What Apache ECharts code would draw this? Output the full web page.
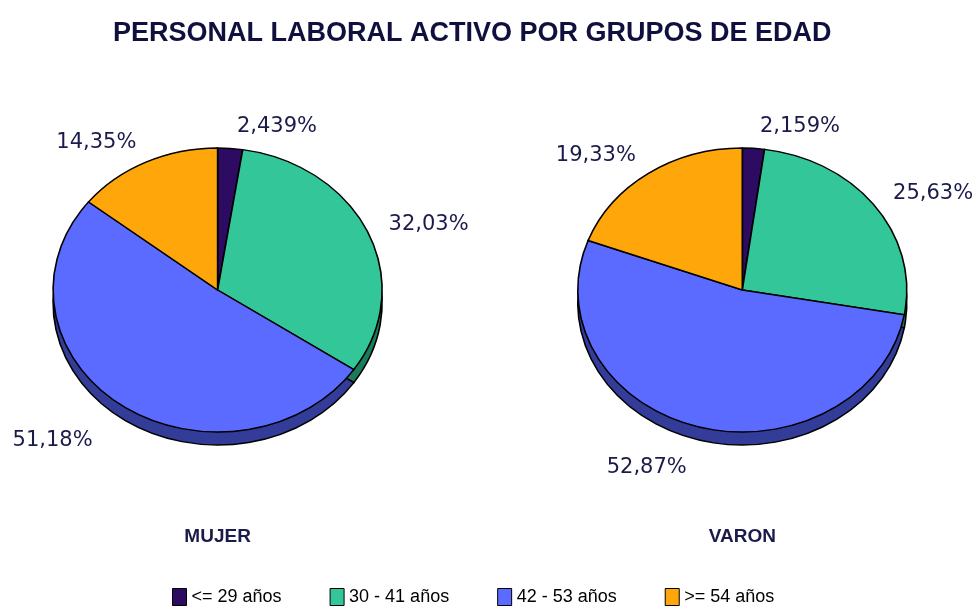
<!DOCTYPE html>
<html>
<head>
<meta charset="utf-8">
<script src="https://cdn.jsdelivr.net/npm/echarts@6/dist/echarts.min.js"></script>
<style>
  html, body { margin: 0; padding: 0; background: #fff; }
  #chart { width: 978px; height: 608px; }
</style>
</head>
<body>
<div id="chart"></div>
<script>
// age groups and percentages per pie
var groups = ['<= 29 años', '30 - 41 años', '42 - 53 años', '>= 54 años'];
var mujer = [2.439, 32.03, 51.18, 14.35];
var varon = [2.159, 25.63, 52.87, 19.33];
var pieNames = ['MUJER', 'VARON'];

var colors = ['#2e0b63', '#33c699', '#5b6bff', '#ffa60a'];
var rimColors = ['#1a0640', '#1c7a5c', '#333d99', '#a06a06'];

var pieX = [0.2225, 0.759];
var pieY = 0.477;
var rx = 164.5, ry = 142, depth = 13;
var navy = '#1b1b4b';

function fmt(v) {
  return String(v).replace('.', ',') + '%';
}

function renderSlice(params, api) {
  var s = params.seriesIndex;
  var i = params.dataIndex;
  var vals = i === 0 ? mujer : varon;
  var total = 0, before = 0;
  for (var k = 0; k < vals.length; k++) {
    total += vals[k];
    if (k < s) before += vals[k];
  }
  var v = api.value(0);
  var a0 = -Math.PI / 2 + 2 * Math.PI * before / total;
  var a1 = a0 + 2 * Math.PI * v / total;
  var cx = api.getWidth() * pieX[i];
  var cy = api.getHeight() * pieY;

  var sector = function(fill, dy, z) {
    return {
      type: 'sector',
      shape: { cx: cx, cy: cy, r: rx, r0: 0, startAngle: a0, endAngle: a1, clockwise: true },
      originX: cx, originY: cy, scaleY: ry / rx, y: dy,
      style: { fill: fill, stroke: '#000', lineWidth: 1.6 },
      z2: z
    };
  };

  // label position around the tilted pie (lower labels sit further out, below the rim)
  var t = (a0 + a1) / 2 + Math.PI / 2;
  var sn = Math.sin(t), cs = Math.cos(t);
  var lower = cs < 0;
  var dh = lower ? 47 : 22;
  var dv = lower ? 29 : 22;
  var lx = cx + (rx + dh) * sn + (Math.abs(sn) < 0.15 ? 5 : 0);
  var ly = cy - (ry + dv) * cs + (lower ? depth : 0);

  var children = [
    sector(rimColors[s], depth, 0),
    sector(colors[s], 0, 10),
    {
      type: 'text', x: lx, y: ly, z2: 20,
      style: {
        text: fmt(v), fill: navy, font: '21px "DejaVu Sans"',
        align: sn >= 0 ? 'left' : 'right', verticalAlign: 'middle'
      }
    }
  ];
  if (s === 0) {
    children.push({
      type: 'text', x: cx, y: cy + 247, z2: 20,
      style: {
        text: pieNames[i], fill: navy, font: 'bold 19px "Liberation Sans"',
        align: 'center', verticalAlign: 'middle'
      }
    });
  }
  return { type: 'group', children: children };
}

var series = groups.map(function(g, s) {
  return {
    type: 'custom',
    name: g,
    coordinateSystem: 'none',
    itemStyle: { color: colors[s] },
    data: [mujer[s], varon[s]],
    renderItem: renderSlice
  };
});

var chart = echarts.init(document.getElementById('chart'));
chart.setOption({
  animation: false,
  backgroundColor: '#fff',
  title: {
    text: 'PERSONAL LABORAL ACTIVO POR GRUPOS DE EDAD',
    left: 108,
    top: 15,
    textStyle: { fontFamily: 'Liberation Sans', fontWeight: 'bold', fontSize: 27, color: '#10103f' }
  },
  legend: {
    data: groups,
    left: 167,
    top: 583,
    icon: 'rect',
    itemWidth: 14,
    itemHeight: 17,
    itemGap: 48,
    itemStyle: { borderColor: '#000', borderWidth: 1 },
    textStyle: { fontFamily: 'Liberation Sans', fontSize: 18, color: '#000' }
  },
  series: series
});
</script>
</body>
</html>
